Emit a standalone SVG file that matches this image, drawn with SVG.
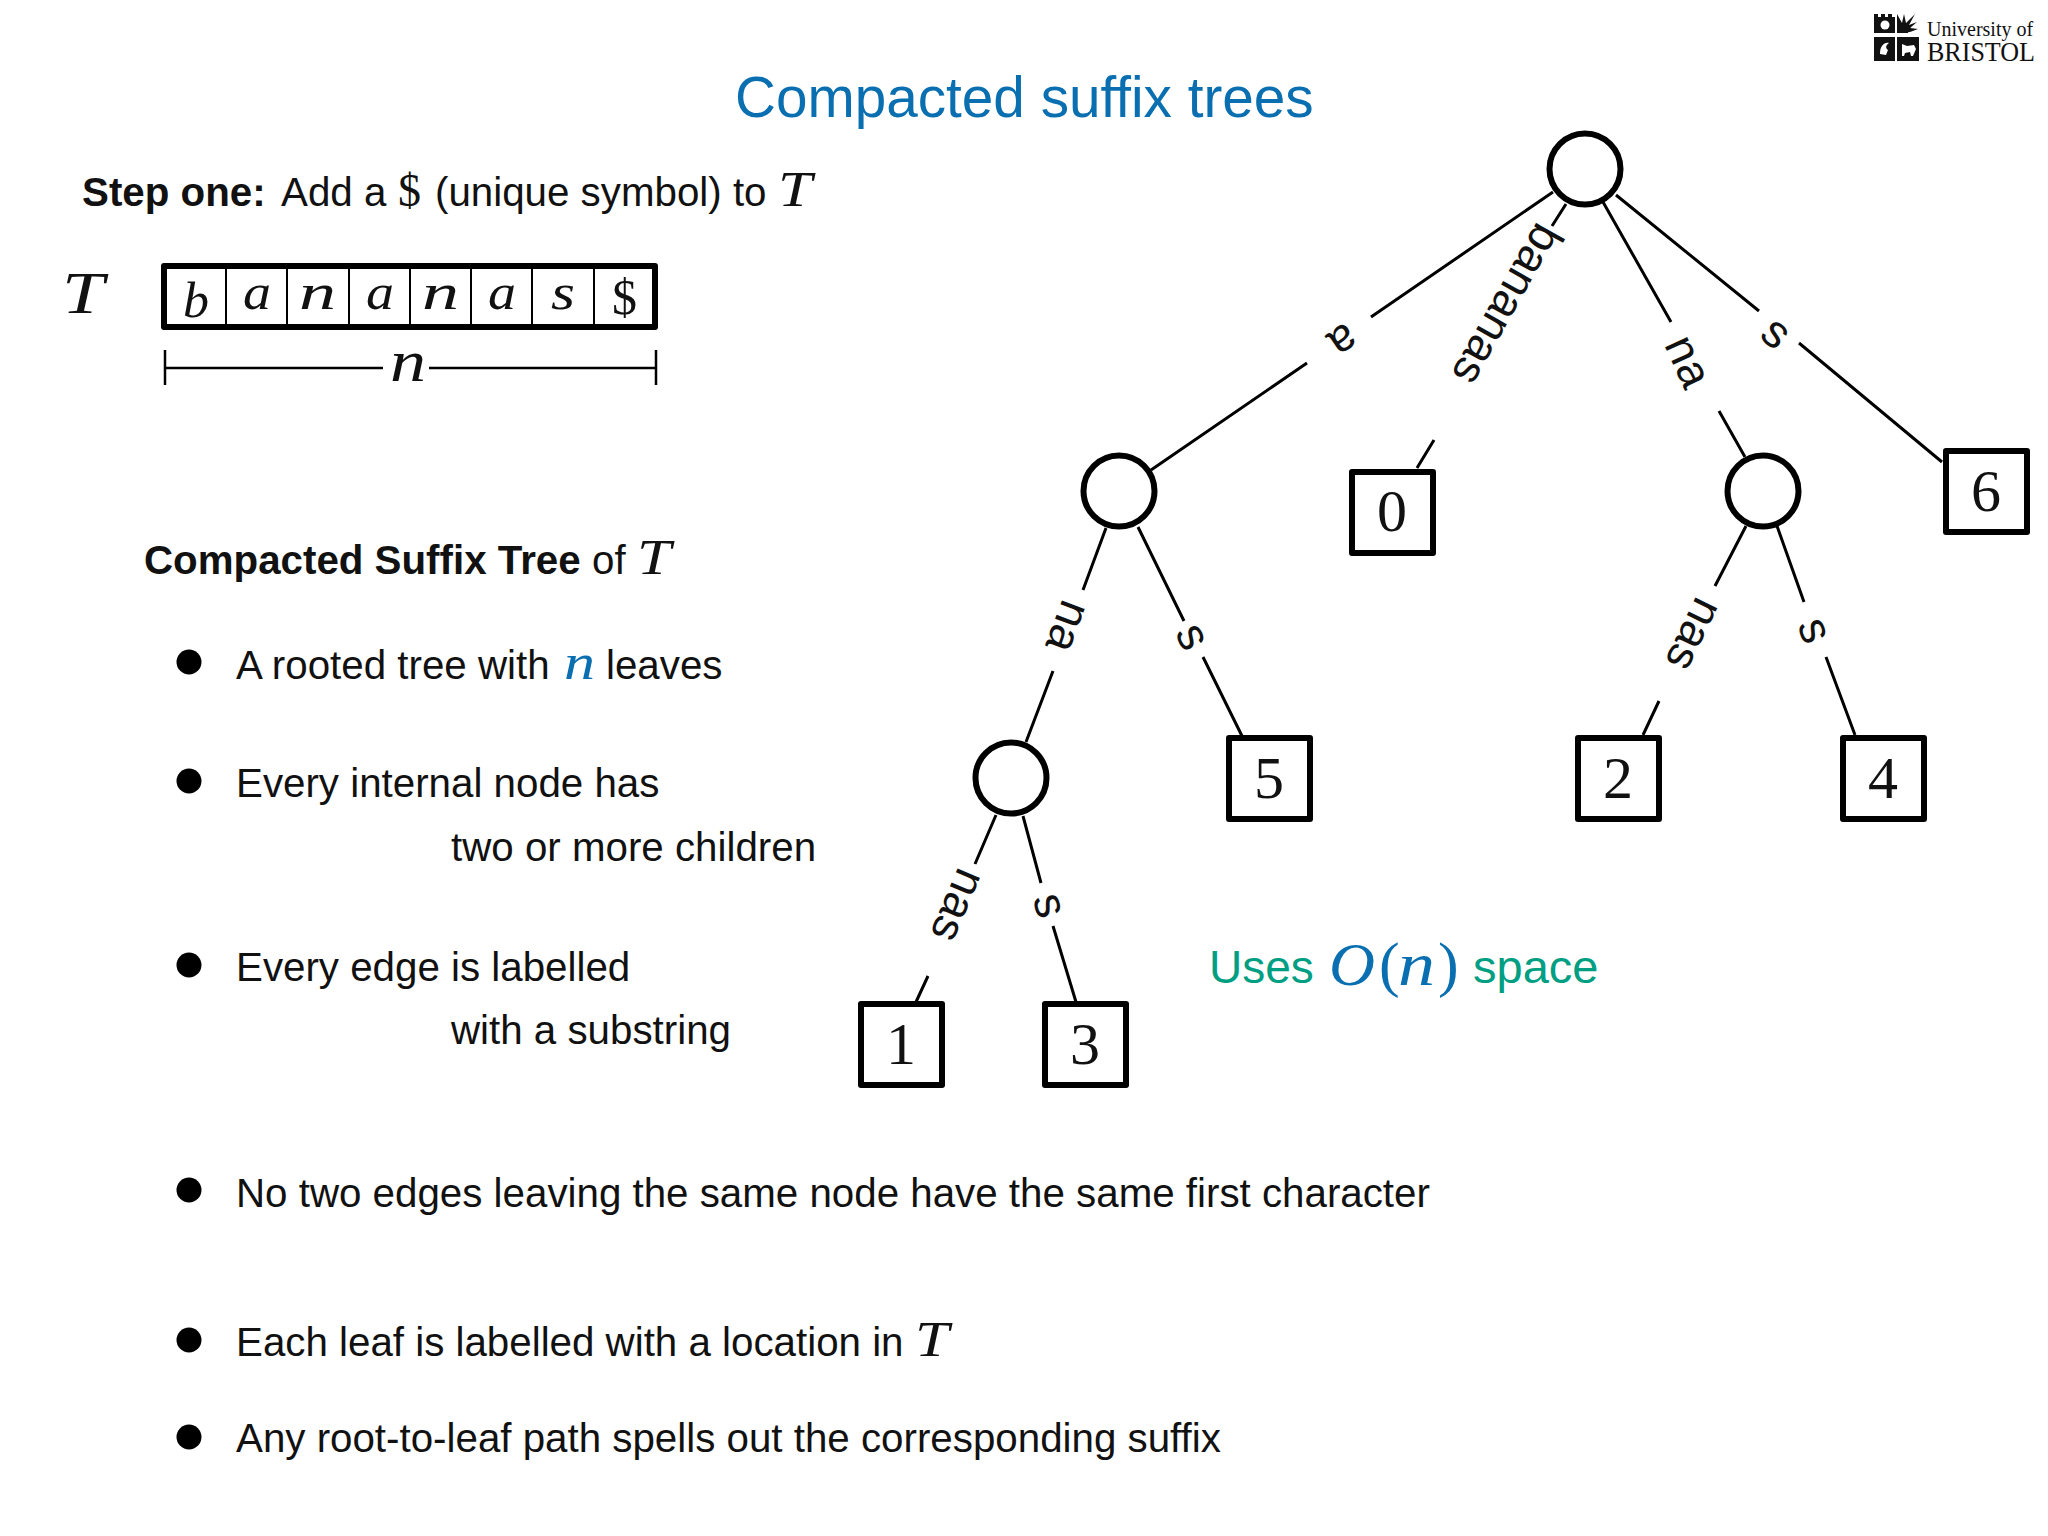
<svg xmlns="http://www.w3.org/2000/svg" width="2048" height="1536" viewBox="0 0 2048 1536">
<style>
text{font-family:"Liberation Sans",Arial,sans-serif;font-size:40.3px;fill:#111}
.b{font-weight:700}
.m{font-family:"Liberation Serif","Times New Roman",serif;font-style:italic}
.r{font-family:"Liberation Serif","Times New Roman",serif}
.c{font-size:50px}
.big{font-size:60px}
.t{font-size:50px}
.d{font-family:"Liberation Serif","Times New Roman",serif;font-size:60px;text-anchor:middle}
.l{text-anchor:middle;font-size:46px;fill:#111}
.e{stroke:#000;stroke-width:3;fill:none}
.n{fill:#fff;stroke:#000;stroke-width:6;stroke-linejoin:round}
.bl{fill:#000}
text.blue{fill:#0a6fb0}
text.teal{fill:#009e82;font-size:46px}
</style>
<rect width="2048" height="1536" fill="#fff"/>
<text x="735" y="117" style="font-size:56.7px" class="blue">Compacted suffix trees</text>
<g id="logo">
<path d="M1874 14h4v3h3v-3h4v3h3v-3h4v3h3v-3v19h-21z" fill="#111"/>
<rect x="1874" y="37" width="21" height="24" fill="#111"/>
<rect x="1897" y="37" width="22" height="24" fill="#111"/>
<path d="M1897 14l5 9 2-9 2 9 9-9-6 11 8-3-7 6 8 1-8 3h-13z" fill="#111"/>
<path d="M1897 26h14l-3 7h-11z" fill="#111"/>
<circle cx="1885" cy="25" r="4.5" fill="#fff"/><path d="M1880 54c0-8 4-12 9-11-3 2-4 5-1 7l-2 5z" fill="#fff"/>
<path d="M1902 44l5 2 7-1 2 4-3 7h-2l-1-4-5 1-1 3h-2z" fill="#fff"/>
<text class="r" x="1927" y="36" style="font-size:20px">University of</text>
<text class="r" x="1927" y="61" style="font-size:28px" textLength="108" lengthAdjust="spacingAndGlyphs">BRISTOL</text>
</g>
<text class="b" x="82" y="206">Step one:</text>
<text x="281" y="206">Add a</text>
<text class="r" x="398" y="206" style="font-size:46px">$</text>
<text x="435" y="206">(unique symbol) to</text>
<text class="m t" x="778" y="206" textLength="34" lengthAdjust="spacingAndGlyphs">T</text>
<g id="array">
<text class="m big" x="62" y="313" textLength="42" lengthAdjust="spacingAndGlyphs">T</text>
<rect x="164" y="266" width="491" height="61" fill="#fff" stroke="#000" stroke-width="6" stroke-linejoin="round"/>
<path d="M226 266v61M287 266v61M349 266v61M410 266v61M471 266v61M532 266v61M594 266v61" stroke="#000" stroke-width="2"/>
<text class="m c" x="183" y="317" textLength="26" lengthAdjust="spacingAndGlyphs">b</text>
<text class="m c" x="243" y="309" textLength="28" lengthAdjust="spacingAndGlyphs">a</text>
<text class="m c" x="299" y="309" textLength="37" lengthAdjust="spacingAndGlyphs">n</text>
<text class="m c" x="366" y="309" textLength="28" lengthAdjust="spacingAndGlyphs">a</text>
<text class="m c" x="422" y="309" textLength="37" lengthAdjust="spacingAndGlyphs">n</text>
<text class="m c" x="488" y="309" textLength="28" lengthAdjust="spacingAndGlyphs">a</text>
<text class="m c" x="551" y="309" textLength="24" lengthAdjust="spacingAndGlyphs">s</text>
<text class="r c" x="612" y="314">$</text>
<path d="M165 350v35M656 350v35M165 368H383M429 368H656" stroke="#000" stroke-width="2.5" fill="none"/>
<text class="m big" x="390" y="381" textLength="36" lengthAdjust="spacingAndGlyphs">n</text>
</g>
<text class="b" x="144" y="574">Compacted Suffix Tree</text>
<text x="592" y="574">of</text>
<text class="m t" x="637" y="574" textLength="34" lengthAdjust="spacingAndGlyphs">T</text>
<g id="bullets">
<circle class="bl" cx="189" cy="662" r="12.5"/><circle class="bl" cx="189" cy="781" r="12.5"/><circle class="bl" cx="189" cy="965" r="12.5"/><circle class="bl" cx="189" cy="1190" r="12.5"/><circle class="bl" cx="189" cy="1340" r="12.5"/><circle class="bl" cx="189" cy="1437" r="12.5"/>
</g>
<text x="236" y="679">A rooted tree with</text>
<text class="m t blue" x="564" y="679" textLength="31" lengthAdjust="spacingAndGlyphs">n</text>
<text x="606" y="679">leaves</text>
<text x="236" y="797">Every internal node has</text>
<text x="451" y="861">two or more children</text>
<text x="236" y="981">Every edge is labelled</text>
<text x="451" y="1044">with a substring</text>
<text x="236" y="1207">No two edges leaving the same node have the same first character</text>
<text x="236" y="1356">Each leaf is labelled with a location in</text>
<text class="m t" x="915" y="1356" textLength="34" lengthAdjust="spacingAndGlyphs">T</text>
<text x="236" y="1452">Any root-to-leaf path spells out the corresponding suffix</text>
<g id="note">
<text class="teal" x="1209" y="983">Uses</text>
<text class="m blue" x="1329" y="985" style="font-size:62px" textLength="46" lengthAdjust="spacingAndGlyphs">O</text>
<text class="r blue" x="1379" y="985" style="font-size:62px">(</text>
<text class="m blue" x="1398" y="985" style="font-size:62px" textLength="37" lengthAdjust="spacingAndGlyphs">n</text>
<text class="r blue" x="1438" y="985" style="font-size:62px">)</text>
<text class="teal" x="1473" y="983" style="font-size:47px">space</text>
</g>
<g id="connectors">
<path class="e" d="M1553 192L1371 317M1307 363L1151 470"/>
<path class="e" d="M1566 204L1552 226M1434 440L1417 468"/>
<path class="e" d="M1603 202L1671 322M1719 411L1745 457"/>
<path class="e" d="M1616 195L1759 311M1799 343L1942 462"/>
<path class="e" d="M1106 528L1083 590M1053 671L1026 742"/>
<path class="e" d="M1138 527L1184 621M1203 657L1242 736"/>
<path class="e" d="M1746 526L1715 586M1659 701L1643 735"/>
<path class="e" d="M1777 526L1804 602M1826 657L1855 735"/>
<path class="e" d="M996 815L975 864M928 976L916 1002"/>
<path class="e" d="M1023 816L1041 883M1053 926L1076 1002"/>
<text class="l" transform="translate(1344 342) rotate(145.3) translate(0 16)">a</text>
<text class="l" transform="translate(1508 305) rotate(119.4) translate(0 16)">bananas</text>
<text class="l" transform="translate(1689 361) rotate(65.5) translate(0 16)">na</text>
<text class="l" transform="translate(1777 332) rotate(40) translate(0 16)">s</text>
<text class="l" transform="translate(1069 627) rotate(110.5) translate(0 16)">na</text>
<text class="l" transform="translate(1194 636) rotate(63.5) translate(0 16)">s</text>
<text class="l" transform="translate(1695 635) rotate(116) translate(0 16)">nas</text>
<text class="l" transform="translate(1816 630) rotate(69.5) translate(0 16)">s</text>
<text class="l" transform="translate(959 906) rotate(113) translate(0 16)">nas</text>
<text class="l" transform="translate(1051 905) rotate(74) translate(0 16)">s</text>
</g>
<g id="root"><circle class="n" cx="1585" cy="169" r="35.5"/></g>
<g id="node-a"><circle class="n" cx="1119" cy="491" r="35.5"/></g>
<g id="node-na"><circle class="n" cx="1763" cy="491" r="35.5"/></g>
<g id="node-ana"><circle class="n" cx="1011" cy="778" r="35.5"/></g>
<g id="leaf-0"><rect class="n" x="1352" y="472" width="81" height="81"/><text class="d" x="1392" y="531">0</text></g>
<g id="leaf-6"><rect class="n" x="1946" y="451" width="81" height="81"/><text class="d" x="1986" y="511">6</text></g>
<g id="leaf-5"><rect class="n" x="1229" y="738" width="81" height="81"/><text class="d" x="1269" y="798">5</text></g>
<g id="leaf-2"><rect class="n" x="1578" y="738" width="81" height="81"/><text class="d" x="1618" y="798">2</text></g>
<g id="leaf-4"><rect class="n" x="1843" y="738" width="81" height="81"/><text class="d" x="1883" y="798">4</text></g>
<g id="leaf-1"><rect class="n" x="861" y="1004" width="81" height="81"/><text class="d" x="901" y="1064">1</text></g>
<g id="leaf-3"><rect class="n" x="1045" y="1004" width="81" height="81"/><text class="d" x="1085" y="1064">3</text></g>
</svg>
